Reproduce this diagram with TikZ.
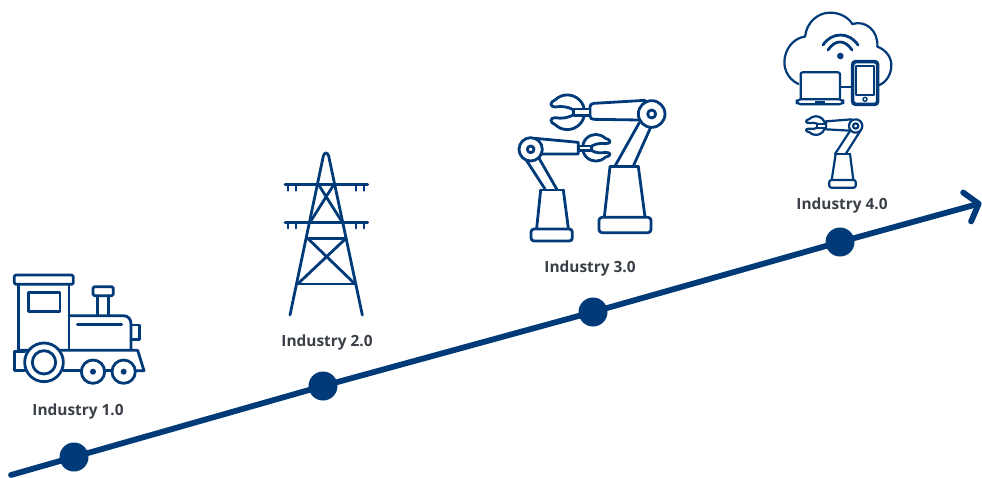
\documentclass[tikz,border=0pt]{standalone}
\usepackage{fontspec}
\setmainfont{Open Sans}
\usetikzlibrary{arrows.meta}
\definecolor{navy}{HTML}{003A78}
\definecolor{labelgray}{HTML}{3A3F47}
\tikzset{
  icon/.style={draw=navy,line width=2.8pt,line join=round,line cap=round},
  thinicon/.style={draw=navy,line width=2.2pt,line join=round,line cap=round},
  dotnode/.style={circle,fill=navy,draw=none,minimum size=29pt,inner sep=0pt},
  lab/.style={text=labelgray,font=\fontsize{15.4pt}{17pt}\selectfont\bfseries,inner sep=0pt},
  timeline/.style={draw=navy,line width=5.8pt,line cap=round,line join=round},
  zoomed/.style={x=0.33333pt,y=-0.33333pt}
}
\begin{document}
\begin{tikzpicture}[x=1pt,y=-1pt]
\useasboundingbox (0,0) rectangle (982,477);
% timeline
\coordinate (start) at (11,475);
\coordinate (tip) at (981.5,203);
\node[dotnode] (d1) at (74,457) {};
\node[dotnode] (d2) at (323,386) {};
\node[dotnode] (d3) at (593,312) {};
\node[dotnode] (d4) at (840,242) {};
\draw[timeline,-{Straight Barb[length=12pt,width=30pt,line width=5.8pt,round]}] (start) -- (d1.center) -- (d2.center) -- (d3.center) -- (d4.center) -- (tip);
% labels
\node[lab] (l1) at (78,411.5) {Industry 1.0};
\node[lab] (l2) at (327,342.5) {Industry 2.0};
\node[lab] (l3) at (590,268.5) {Industry 3.0};
\node[lab] (l4) at (842,205) {Industry 4.0};
% train
\begin{scope}[shift={(0pt,-260pt)},zoomed]
\draw[icon,rounded corners=2pt] (43,45) rectangle (220,73);
\draw[icon] (55,73) -- (55,270);
\draw[icon] (207,73) -- (207,270);
\draw[icon] (85,98) rectangle (180,155);
\draw[icon,rounded corners=1.5pt] (279,80) rectangle (340,107);
\draw[icon] (292,107) -- (292,167);
\draw[icon] (325,107) -- (325,167);
\draw[icon] (207,167) -- (370,167) .. controls (385,167) and (393,178) .. (393,192) -- (393,270);
\draw[icon] (232,193) -- (365,193);
\draw[icon] (393,195) -- (418,195) -- (418,238) -- (393,238);
\draw[icon] (55,271) -- (413,271) -- (432,332) -- (405,332);
\draw[icon] (340,332) -- (315,332);
\draw[icon] (245,332) -- (190,332);
\draw[icon] (75,275) -- (43,275) -- (43,332) -- (75,332);
\draw[icon,fill=white] (132,307) circle[radius=58];
\draw[icon] (132,307) circle[radius=35];
\draw[icon,fill=white] (279,335) circle[radius=35];
\fill[navy] (279,335) circle[radius=9];
\draw[icon,fill=white] (371,335) circle[radius=35];
\fill[navy] (371,335) circle[radius=9];
\end{scope}
% tower
\begin{scope}[shift={(260pt,-140pt)},zoomed]
\draw[icon] (90,525) -- (190,48) .. controls (193,36) and (203,36) .. (206,48) -- (307,525);
\draw[icon] (75,133) -- (323,133);
\draw[icon] (75,247) -- (323,247);
\foreach \x in {83,107,288,312}{
  \draw[thinicon] (\x,133) -- (\x,152);
  \draw[thinicon] (\x,247) -- (\x,265);
}
\draw[icon] (175,133) -- (247,247);
\draw[icon] (222,133) -- (150,247);
\draw[icon] (143,295) -- (258,295);
\draw[icon] (113,432) -- (285,432);
\draw[icon] (143,295) -- (285,432);
\draw[icon] (258,295) -- (113,432);
\end{scope}
% robots
\begin{scope}[shift={(510pt,-85pt)},zoomed]
% big robot
\draw[icon] (405,46) -- (252,55) .. controls (243,56) and (240,60) .. (240,66) -- (240,92) .. controls (240,100) and (245,103) .. (252,103) -- (390,105);
\draw[icon] (135,45) arc[start angle=225,end angle=495,radius=52]
  .. controls (120,114) and (118,98) .. (135,98)
  .. controls (155,102) and (175,98) .. (190,90) -- (190,74)
  .. controls (175,66) and (155,62) .. (135,66)
  .. controls (118,66) and (120,50) .. (135,45);
\draw[icon,fill=white] (192,72) rectangle (240,92);
\draw[icon] (425,87) circle[radius=40];
\draw[icon] (425,87) circle[radius=12];
\draw[icon] (388,113) -- (315,243);
\draw[icon] (422,127) -- (370,243);
\draw[icon] (300,245) -- (385,245);
\draw[icon] (300,245) -- (283,396);
\draw[icon] (385,245) -- (405,396);
\draw[icon,rounded corners=3pt] (267,397) rectangle (423,443);
% small robot
\draw[icon] (75,160) -- (205,172) -- (205,207) -- (92,207);
\draw[icon] (286,160) arc[start angle=-45,end angle=-315,radius=40]
  .. controls (305,212) and (305,202) .. (286,202)
  .. controls (272,205) and (258,204) .. (245,197) -- (245,183)
  .. controls (258,176) and (272,174) .. (286,176)
  .. controls (305,176) and (305,165) .. (286,160);
\draw[icon,fill=white] (205,183) rectangle (245,197);
\draw[icon] (62,193) circle[radius=35];
\draw[icon] (62,193) circle[radius=10];
\draw[icon] (50,227) -- (105,312);
\draw[icon] (86,218) -- (140,312);
\draw[icon] (92,315) -- (160,315);
\draw[icon] (92,315) -- (80,430);
\draw[icon] (160,315) -- (175,430);
\draw[icon,rounded corners=3pt] (63,432) rectangle (187,468);
\end{scope}
% cloud, devices, robot
\begin{scope}[shift={(770pt,0pt)},zoomed]
\draw[thinicon] (85,252) .. controls (50,235) and (38,200) .. (45,170) .. controls (52,135) and (80,112) .. (105,110)
  .. controls (110,65) and (145,38) .. (180,38) .. controls (210,38) and (235,52) .. (247,72)
  .. controls (285,60) and (325,90) .. (322,140) .. controls (350,150) and (366,175) .. (364,200)
  .. controls (362,228) and (345,250) .. (325,256);
\draw[icon] (159,135) .. controls (185,95) and (238,95) .. (264,135);
\draw[icon] (174,150) .. controls (195,118) and (225,118) .. (246,150);
\fill[navy] (211,168) circle[radius=10];
\draw[thinicon,rounded corners=2pt] (92,295) -- (92,217) -- (210,217) -- (210,295);
\draw[thinicon,rounded corners=4pt] (80,298) rectangle (220,313);
\fill[navy] (135,303) rectangle (165,313);
\draw[thinicon] (212,262) -- (247,262);
\draw[navy,line width=3.6pt,rounded corners=3pt] (248,185) rectangle (323,313);
\draw[thinicon] (258,197) rectangle (311,285);
\draw[navy,line width=1.4pt] (285,298) circle[radius=6];
% small robot
\draw[thinicon] (245,358) -- (168,364) -- (168,388) -- (240,392);
\draw[thinicon] (118,357) arc[start angle=225,end angle=495,radius=28]
  .. controls (105,395) and (105,385) .. (118,386)
  .. controls (128,388) and (135,387) .. (142,383) -- (142,371)
  .. controls (135,369) and (128,367) .. (118,369)
  .. controls (105,370) and (105,360) .. (118,357);
\draw[thinicon,fill=white] (142,371) rectangle (168,383);
\draw[thinicon] (257,378) circle[radius=20];
\draw[thinicon] (257,378) circle[radius=8];
\draw[thinicon] (240,393) -- (195,462);
\draw[thinicon] (270,394) -- (227,462);
\draw[thinicon] (197,462) -- (240,462);
\draw[thinicon] (197,462) -- (185,540);
\draw[thinicon] (240,462) -- (250,540);
\draw[thinicon,rounded corners=2pt] (178,540) rectangle (257,563);
\end{scope}
\end{tikzpicture}
\end{document}
